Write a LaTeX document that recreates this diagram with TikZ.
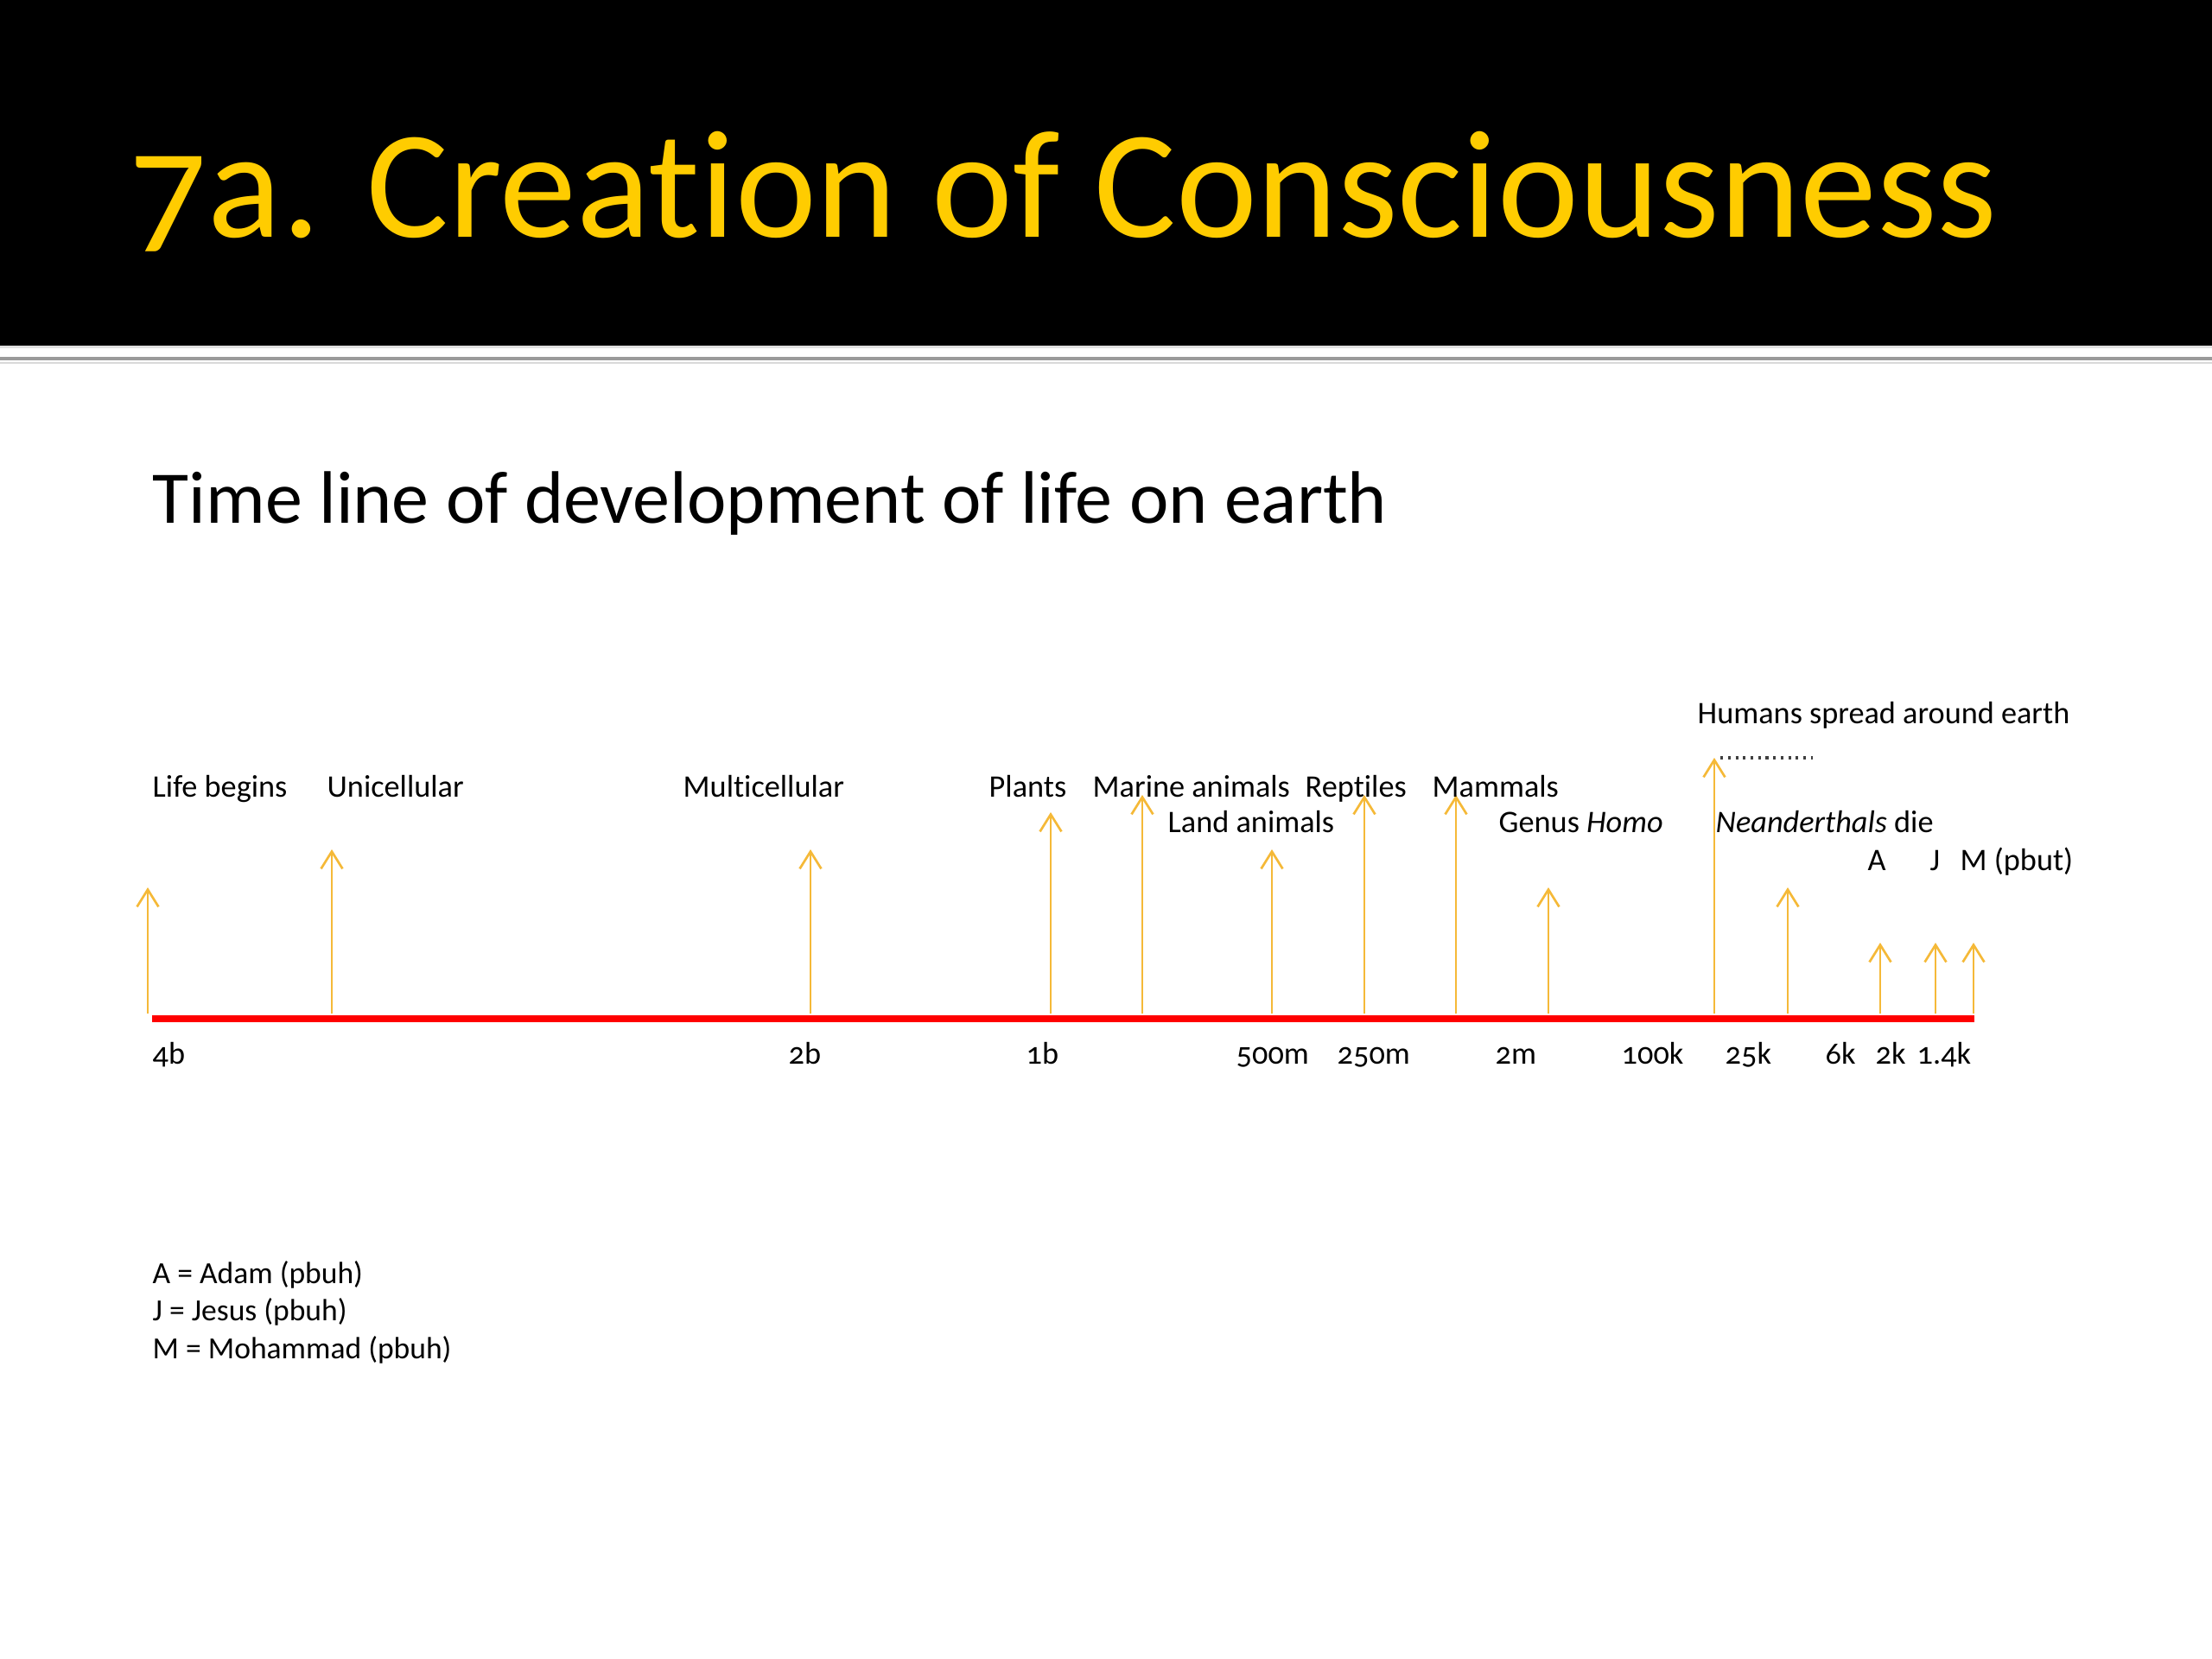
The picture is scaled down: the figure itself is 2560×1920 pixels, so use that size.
\documentclass[tikz,border=0pt]{standalone}
\usepackage{fontspec}
\setmainfont{Carlito}[Numbers=OldStyle, Ligatures=NoCommon]
\usetikzlibrary{arrows.meta}
\definecolor{titleyellow}{HTML}{FFCC00}
\definecolor{arrowc}{HTML}{F5B938}
\definecolor{rulegray}{HTML}{9A9A9A}
\tikzset{
  lbl/.style={anchor=base west, inner sep=0pt, font=\fontsize{10.2}{12}\selectfont, text=black},
  legend/.style={anchor=base west, inner sep=0pt, font=\fontsize{10}{12}\selectfont, text=black},
  evt/.style={draw=arrowc, line width=0.75pt, -{Straight Barb[length=5.6pt,width=7pt]}},
  timeline/.style={draw=red, line width=2pt},
  dotline/.style={draw=black!75, line width=0.9pt, dash pattern=on 0.9pt off 1.55pt}
}
\begin{document}
\begin{tikzpicture}[x=0.28125pt,y=-0.28125pt]
\path[use as bounding box, fill=white] (0,0) rectangle (2560,1920);
% header
\fill[black] (0,0) rectangle (2560,400);
\fill[black!12] (0,400) rectangle (2560,403);
\draw[rulegray, line width=1.2pt] (0,415) -- (2560,415);
\draw[black!15, line width=0.6pt] (0,420) -- (2560,420);
\node[anchor=base west, inner sep=0pt, text=titleyellow, font=\fontsize{50}{60}\selectfont] (title) at (150,275) {7a. Creation of Consciousness};
\node[anchor=base west, inner sep=0pt, font=\fontsize{24.2}{29}\selectfont] (subtitle) at (176,606) {Time line of development of life on earth};

% timeline
\coordinate (tlstart) at (176,1179);
\coordinate (tlend) at (2285,1179);
\draw[timeline] (tlstart) -- (tlend);

% event base and top coordinates
\foreach \n/\x/\t in {life/171/1027, uni/384/983, multi/938/983, plants/1216/940,
  marine/1322/920, land/1472/983, reptiles/1579/920, mammals/1685/920,
  genus/1792/1027, humans/1984/877, neander/2069/1027, adam/2176/1091,
  jesus/2240/1091, moh/2284/1091}{
  \coordinate (\n-b) at (\x,1173);
  \coordinate (\n-t) at (\x,\t);
  \draw[evt] (\n-b) -- (\n-t);
}
\coordinate (dotend) at (2098,877);
\draw[dotline] ([xshift=2pt]humans-t) -- (dotend);

% event labels
\node[lbl] (Llife) at (176,922) {Life begins};
\node[lbl] (Luni) at (378,922) {Unicellular};
\node[lbl] (Lmulti) at (790,922) {Multicellular};
\node[lbl] (Lplants) at (1144,922) {Plants};
\node[lbl] (Lmarine) at (1264,922) {Marine animals};
\node[lbl] (Lrept) at (1510,922) {Reptiles};
\node[lbl] (Lmamm) at (1657,922) {Mammals};
\node[lbl] (Lland) at (1351,963) {Land animals};
\node[lbl] (Lgenus) at (1734,963) {Genus \textit{Homo}};
\node[lbl] (Lneand) at (1985,963) {\textit{Neanderthals} die};
\node[lbl] (Lhumans) at (1964,837) {Humans spread around earth};
\node[lbl] (LA) at (2161,1007) {A};
\node[lbl] (LJ) at (2233,1007) {J};
\node[lbl] (LM) at (2268,1007) {M (pbut)};

% axis labels
\node[lbl] (a4b) at (176,1231) {4b};
\node[lbl] (a2b) at (912,1231) {2b};
\node[lbl] (a1b) at (1187,1231) {1b};
\node[lbl] (a500m) at (1430,1231) {500m};
\node[lbl] (a250m) at (1547,1231) {250m};
\node[lbl] (a2m) at (1730,1231) {2m};
\node[lbl] (a100k) at (1876,1231) {100k};
\node[lbl] (a25k) at (1996,1231) {25k};
\node[lbl] (a6k) at (2112,1231) {6k};
\node[lbl] (a2k) at (2170,1231) {2k};
\node[lbl] (a14k) at (2218,1231) {1.4k};

% legend
\node[legend] (legA) at (176,1485) {A = Adam (pbuh)};
\node[legend] (legJ) at (176,1528) {J = Jesus (pbuh)};
\node[legend] (legM) at (176,1572) {M = Mohammad (pbuh)};
\end{tikzpicture}
\end{document}
